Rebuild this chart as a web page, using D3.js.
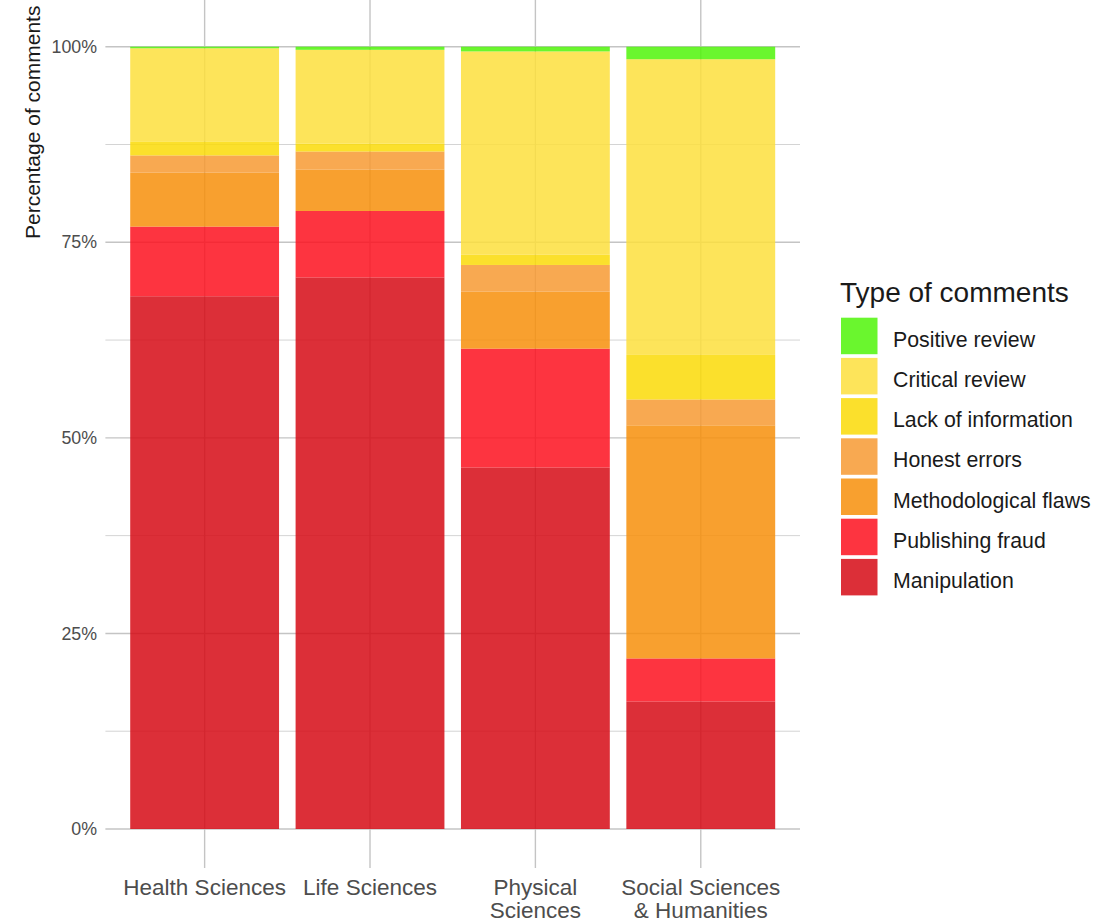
<!DOCTYPE html>
<html>
<head>
<meta charset="utf-8">
<script src="https://cdn.jsdelivr.net/npm/d3@7"></script>
<style>
  html, body { margin: 0; padding: 0; background: #ffffff; }
  svg { display: block; font-family: "Liberation Sans", Arial, sans-serif; }
</style>
</head>
<body>
<svg id="chart" width="1107" height="923"></svg>
<script>
// ---- data ----
const categories = ["Health Sciences", "Life Sciences", "Physical Sciences", "Social Sciences & Humanities"];
const categoryLabels = [["Health Sciences"], ["Life Sciences"], ["Physical", "Sciences"], ["Social Sciences", "& Humanities"]];
// series listed top of stack first (legend order)
const seriesNames = ["Positive review", "Critical review", "Lack of information", "Honest errors", "Methodological flaws", "Publishing fraud", "Manipulation"];
const positiveReview      = [0.2, 0.4, 0.6, 1.6];
const criticalReview      = [11.9, 12.0, 26.0, 37.8];
const lackOfInformation   = [1.8, 1.0, 1.3, 5.7];
const honestErrors        = [2.2, 2.3, 3.4, 3.3];
const methodologicalFlaws = [6.9, 5.3, 7.3, 29.8];
const publishingFraud     = [8.9, 8.5, 15.2, 5.5];
const manipulation        = [68.1, 70.5, 46.2, 16.3];
const yTicks = [0, 0.25, 0.5, 0.75, 1];
const yMinor = [0.125, 0.375, 0.625, 0.875];
const seriesColors = ["#50f409", "#fddf3d", "#fada07", "#f79a33", "#f78f0b", "#fd101e", "#d60a15"];

const seriesValues = [positiveReview, criticalReview, lackOfInformation, honestErrors, methodologicalFlaws, publishingFraud, manipulation];

// table for d3.stack
const table = categories.map((c, i) => {
  const row = { category: c };
  seriesNames.forEach((s, j) => { row[s] = seriesValues[j][i]; });
  return row;
});
// stack from bottom: Manipulation first
const stackKeys = seriesNames.slice().reverse();
const stacked = d3.stack().keys(stackKeys).offset(d3.stackOffsetExpand)(table);

const svg = d3.select("#chart");

const x = d3.scaleBand().domain(categories).range([105.4, 800]).paddingInner(0.1).paddingOuter(0.15);
const y = d3.scaleLinear().domain([0, 1]).range([829, 46.7]);
const color = d3.scaleOrdinal().domain(seriesNames).range(seriesColors);

const panelBottom = y(-0.05);
const panelLeft = 105.4, panelRight = 800;

// grid
const grid = svg.append("g");
grid.selectAll("line.minor").data(yMinor).join("line")
  .attr("x1", panelLeft).attr("x2", panelRight)
  .attr("y1", d => y(d)).attr("y2", d => y(d))
  .attr("stroke", "#d4d4d4").attr("stroke-width", 1);
grid.selectAll("line.major").data(yTicks).join("line")
  .attr("x1", panelLeft).attr("x2", panelRight)
  .attr("y1", d => y(d)).attr("y2", d => y(d))
  .attr("stroke", "#c4c4c4").attr("stroke-width", 1.4);
grid.selectAll("line.vert").data(categories).join("line")
  .attr("x1", d => x(d) + x.bandwidth() / 2).attr("x2", d => x(d) + x.bandwidth() / 2)
  .attr("y1", 0).attr("y2", panelBottom)
  .attr("stroke", "#c4c4c4").attr("stroke-width", 1.4);

// bars
const layers = svg.append("g").selectAll("g").data(stacked).join("g")
  .attr("fill", d => color(d.key)).attr("fill-opacity", 0.85);
layers.selectAll("rect").data(d => d).join("rect")
  .attr("x", d => x(d.data.category))
  .attr("width", x.bandwidth())
  .attr("y", d => y(d[1]))
  .attr("height", d => y(d[0]) - y(d[1]));

// y axis labels
const yAxis = d3.axisLeft(y).tickValues(yTicks).tickFormat(d3.format(".0%")).tickSize(0).tickPadding(0);
const gy = svg.append("g").attr("transform", "translate(97,0)").call(yAxis);
gy.select(".domain").remove();
gy.selectAll("text").attr("font-size", 17.8).attr("fill", "#4d4d4d")
  .attr("font-family", "'Liberation Sans', Arial, sans-serif");

// x axis labels
const xAxis = d3.axisBottom(x).tickSize(0).tickFormat("");
const gx = svg.append("g").attr("transform", `translate(0,${panelBottom})`).call(xAxis);
gx.select(".domain").remove();
gx.selectAll(".tick").each(function (d, i) {
  const t = d3.select(this).append("text")
    .attr("fill", "#4d4d4d").attr("font-size", 22.5).attr("text-anchor", "middle")
    .attr("font-family", "'Liberation Sans', Arial, sans-serif");
  categoryLabels[i].forEach((line, k) => {
    t.append("tspan").attr("x", 0).attr("y", 895 - panelBottom + k * 23.5).text(line);
  });
});

// y title
svg.append("text")
  .attr("transform", "translate(40,239) rotate(-90)")
  .attr("font-size", 21).attr("fill", "#1a1a1a")
  .text("Percentage of comments");

// legend
const legend = svg.append("g");
legend.append("text").attr("x", 840).attr("y", 301.5)
  .attr("font-size", 28).attr("fill", "#1a1a1a").text("Type of comments");
const items = legend.selectAll("g.item").data(seriesNames).join("g")
  .attr("transform", (d, i) => `translate(841,${317.7 + i * 40.2})`);
items.append("rect").attr("width", 36.5).attr("height", 36.5)
  .attr("fill", d => color(d)).attr("fill-opacity", 0.85);
items.append("text").attr("x", 52).attr("y", 29)
  .attr("font-size", 21.3).attr("fill", "#1a1a1a").text(d => d);
</script>
</body>
</html>
